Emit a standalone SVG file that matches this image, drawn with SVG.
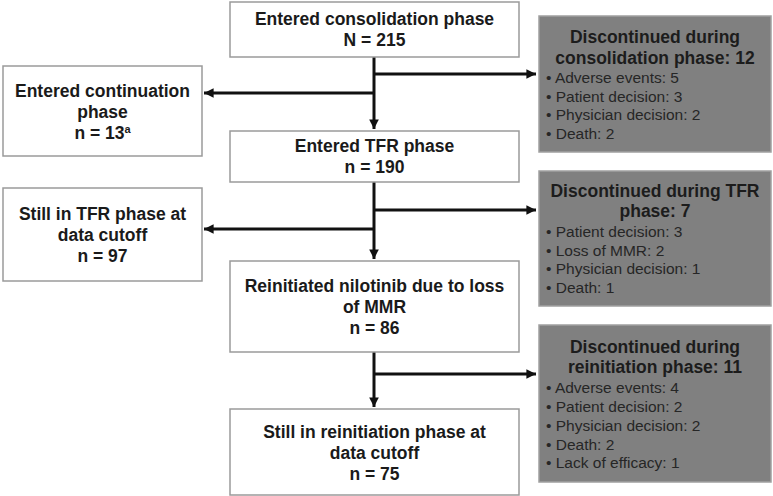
<svg xmlns="http://www.w3.org/2000/svg" width="773" height="496" viewBox="0 0 773 496">
<defs>
<marker id="ah" viewBox="0 0 10 10" refX="10" refY="5" markerWidth="3.2" markerHeight="3.2" orient="auto" markerUnits="strokeWidth">
<path d="M0,0 L10,5 L0,10 Z" fill="#111"/>
</marker>
<style>
.box{fill:#fff;stroke:#9a9a9a;stroke-width:1.5}
.gbox{fill:#808080;stroke:#a0a0a0;stroke-width:1.5}
.t{font-family:"Liberation Sans",Arial,sans-serif;font-weight:bold;font-size:17.5px;fill:#1a1a1a;text-anchor:middle}
.gt{font-family:"Liberation Sans",Arial,sans-serif;font-weight:bold;font-size:17.5px;fill:#1c1c1c;text-anchor:middle}
.b{font-family:"Liberation Sans",Arial,sans-serif;font-size:15.5px;fill:#262626}
.c{fill:none;stroke:#111;stroke-width:3}
</style>
</defs>
<rect width="773" height="496" fill="#fff"/>
<g id="connectors">
<path class="c" d="M374,57 V129" marker-end="url(#ah)"/>
<path class="c" d="M374,74 H536" marker-end="url(#ah)"/>
<path class="c" d="M374,93 H204" marker-end="url(#ah)"/>
<path class="c" d="M374,182 V259" marker-end="url(#ah)"/>
<path class="c" d="M374,210 H536" marker-end="url(#ah)"/>
<path class="c" d="M374,229 H204" marker-end="url(#ah)"/>
<path class="c" d="M374,352 V407" marker-end="url(#ah)"/>
<path class="c" d="M374,374 H536" marker-end="url(#ah)"/>
</g>
<g id="n-consolidation">
<rect class="box" x="230" y="2" width="289" height="55"/>
<text class="t" x="374.5" y="25">Entered consolidation phase</text>
<text class="t" x="374.5" y="46">N = 215</text>
</g>
<g id="n-continuation">
<rect class="box" x="3" y="66" width="199" height="90"/>
<text class="t" x="102.5" y="97">Entered continuation</text>
<text class="t" x="102.5" y="118">phase</text>
<text class="t" x="102.5" y="139">n = 13<tspan font-size="11" dy="-6">a</tspan></text>
</g>
<g id="n-tfr">
<rect class="box" x="230" y="131" width="289" height="51"/>
<text class="t" x="374.5" y="152">Entered TFR phase</text>
<text class="t" x="374.5" y="173">n = 190</text>
</g>
<g id="n-still-tfr">
<rect class="box" x="3" y="188" width="199" height="93"/>
<text class="t" x="102.5" y="220">Still in TFR phase at</text>
<text class="t" x="102.5" y="241">data cutoff</text>
<text class="t" x="102.5" y="262">n = 97</text>
</g>
<g id="n-reinitiated">
<rect class="box" x="230" y="261" width="289" height="91"/>
<text class="t" x="374.5" y="292">Reinitiated nilotinib due to loss</text>
<text class="t" x="374.5" y="313">of MMR</text>
<text class="t" x="374.5" y="334">n = 86</text>
</g>
<g id="n-still-reinit">
<rect class="box" x="230" y="409" width="289" height="86"/>
<text class="t" x="374.5" y="438">Still in reinitiation phase at</text>
<text class="t" x="374.5" y="459">data cutoff</text>
<text class="t" x="374.5" y="480">n = 75</text>
</g>
<g id="n-disc-consolidation">
<rect class="gbox" x="539" y="16" width="232" height="136"/>
<text class="gt" x="655" y="43">Discontinued during</text>
<text class="gt" x="655" y="64">consolidation phase: 12</text>
<text class="b" x="546" y="83">• Adverse events: 5</text>
<text class="b" x="546" y="101.5">• Patient decision: 3</text>
<text class="b" x="546" y="120">• Physician decision: 2</text>
<text class="b" x="546" y="138.5">• Death: 2</text>
</g>
<g id="n-disc-tfr">
<rect class="gbox" x="539" y="171" width="232" height="135"/>
<text class="gt" x="655" y="197">Discontinued during TFR</text>
<text class="gt" x="655" y="217">phase: 7</text>
<text class="b" x="546" y="237">• Patient decision: 3</text>
<text class="b" x="546" y="255.5">• Loss of MMR: 2</text>
<text class="b" x="546" y="274">• Physician decision: 1</text>
<text class="b" x="546" y="292.5">• Death: 1</text>
</g>
<g id="n-disc-reinit">
<rect class="gbox" x="539" y="325" width="232" height="157"/>
<text class="gt" x="655" y="353">Discontinued during</text>
<text class="gt" x="655" y="373">reinitiation phase: 11</text>
<text class="b" x="546" y="393">• Adverse events: 4</text>
<text class="b" x="546" y="412">• Patient decision: 2</text>
<text class="b" x="546" y="431">• Physician decision: 2</text>
<text class="b" x="546" y="449.5">• Death: 2</text>
<text class="b" x="546" y="468">• Lack of efficacy: 1</text>
</g>
</svg>
